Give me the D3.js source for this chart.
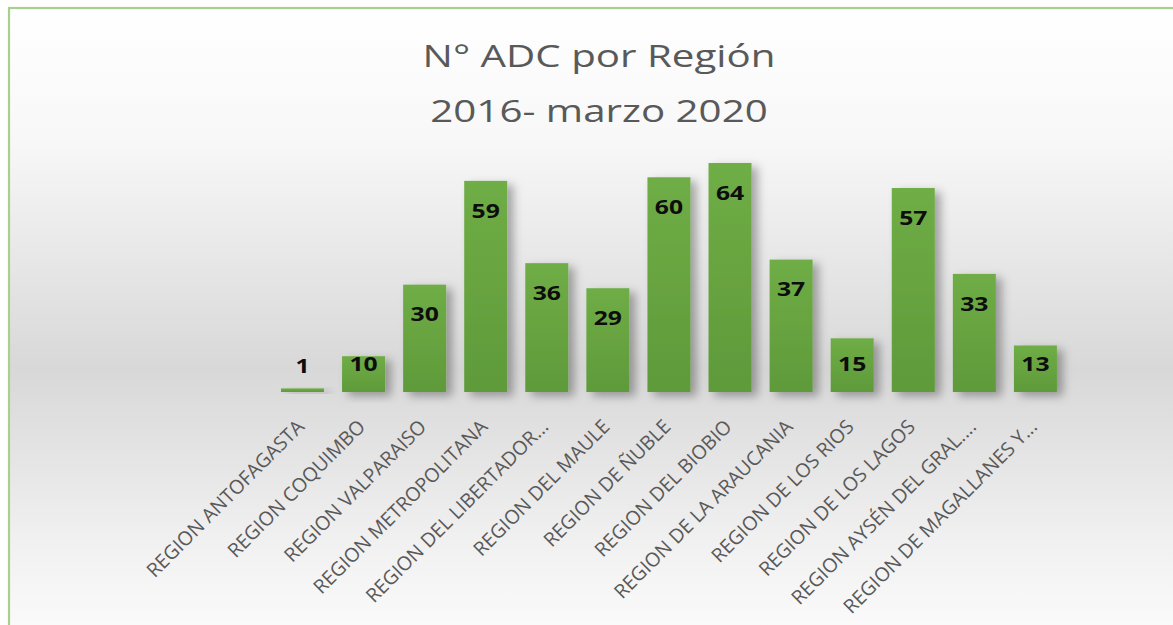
<!DOCTYPE html>
<html>
<head>
<meta charset="utf-8">
<script src="https://cdn.jsdelivr.net/npm/d3@7"></script>
<style>
  html, body { margin: 0; padding: 0; background: #ffffff; overflow: hidden; }
  svg { display: block; }
</style>
</head>
<body>
<svg id="chart" width="1173" height="625"></svg>
<script>
// ---- data ----
const titleLines = ["N° ADC por Región", "2016- marzo 2020"];
const categories = [
  "REGION ANTOFAGASTA",
  "REGION COQUIMBO",
  "REGION VALPARAISO",
  "REGION METROPOLITANA",
  "REGION DEL LIBERTADOR...",
  "REGION DEL MAULE",
  "REGION DE ÑUBLE",
  "REGION DEL BIOBIO",
  "REGION DE LA ARAUCANIA",
  "REGION DE LOS RIOS",
  "REGION DE LOS LAGOS",
  "REGION AYSÉN DEL GRAL....",
  "REGION DE MAGALLANES Y..."
];
const values = [1, 10, 30, 59, 36, 29, 60, 64, 37, 15, 57, 33, 13];

// ---- layout ----
const W = 1173, H = 625;
const svg = d3.select("#chart");
const defs = svg.append("defs");

const bg = defs.append("linearGradient").attr("id", "bg")
  .attr("x1", 0).attr("y1", 0).attr("x2", 0).attr("y2", 1);
bg.append("stop").attr("offset", "0%").attr("stop-color", "#ffffff");
bg.append("stop").attr("offset", "20%").attr("stop-color", "#f8f8f8");
bg.append("stop").attr("offset", "56%").attr("stop-color", "#d8d8d8");
bg.append("stop").attr("offset", "82%").attr("stop-color", "#f0f0f0");
bg.append("stop").attr("offset", "100%").attr("stop-color", "#fdfdfd");

const barG = defs.append("linearGradient").attr("id", "barg")
  .attr("x1", 0).attr("y1", 0).attr("x2", 0).attr("y2", 1);
barG.append("stop").attr("offset", "0%").attr("stop-color", "#6fad46");
barG.append("stop").attr("offset", "100%").attr("stop-color", "#5f9a3a");

const sh = defs.append("filter").attr("id", "shadow")
  .attr("x", "-30%").attr("y", "-30%").attr("width", "180%").attr("height", "160%");
sh.append("feDropShadow").attr("dx", 6).attr("dy", 4).attr("stdDeviation", 5)
  .attr("flood-color", "#000").attr("flood-opacity", 0.32);

// background + border
svg.append("rect").attr("x", 9).attr("y", 8).attr("width", W + 20).attr("height", H + 20)
  .attr("fill", "url(#bg)").attr("stroke", "#a8d08d").attr("stroke-width", 2.2);

// scales
const x = d3.scaleBand().domain(categories).range([262.9, 1075]).padding(0.296);
const y = d3.scaleLinear().domain([0, 70]).range([392, 141.5]);

// title
const tg = svg.append("g");
titleLines.forEach((t, i) => {
  tg.append("text")
    .attr("transform", `translate(599,${67 + i * 55}) scale(1.3,1)`)
    .attr("text-anchor", "middle")
    .attr("font-family", "'Open Sans', sans-serif")
    .attr("font-size", 31)
    .attr("fill", "#595959")
    .text(t);
});

// bars
svg.append("g").selectAll("rect").data(values).join("rect")
  .attr("x", (d, i) => x(categories[i]))
  .attr("y", d => y(d))
  .attr("width", x.bandwidth())
  .attr("height", d => y(0) - y(d))
  .attr("fill", "url(#barg)")
  .attr("filter", "url(#shadow)");

// value labels
function labelY(d) {
  const top = y(d), base = y(0);
  if (base - top < 20) return top - 22;
  return Math.min(top + 30, Math.max(top + 8, base - 28));
}
svg.append("g").selectAll("text").data(values).join("text")
  .attr("transform", (d, i) => `translate(${x(categories[i]) + x.bandwidth() / 2},${labelY(d)}) scale(1.3,1)`)
  .attr("text-anchor", "middle")
  .attr("dy", "0.36em")
  .attr("font-family", "'Open Sans', sans-serif")
  .attr("font-weight", "bold")
  .attr("font-size", 19)
  .attr("fill", "#0d0d0d")
  .text(d => d);

// x axis (no line, no ticks)
const axis = svg.append("g").attr("transform", `translate(0,${y(0)})`)
  .call(d3.axisBottom(x).tickSize(0).tickPadding(0));
axis.select(".domain").remove();
axis.selectAll("text")
  .attr("font-family", "'Open Sans', sans-serif")
  .attr("font-size", 19.5)
  .attr("fill", "#595959")
  .attr("text-anchor", "end")
  .attr("y", 0).attr("dy", "0.72em")
  .attr("transform", "translate(-7,26) rotate(-45)");
</script>
</body>
</html>
